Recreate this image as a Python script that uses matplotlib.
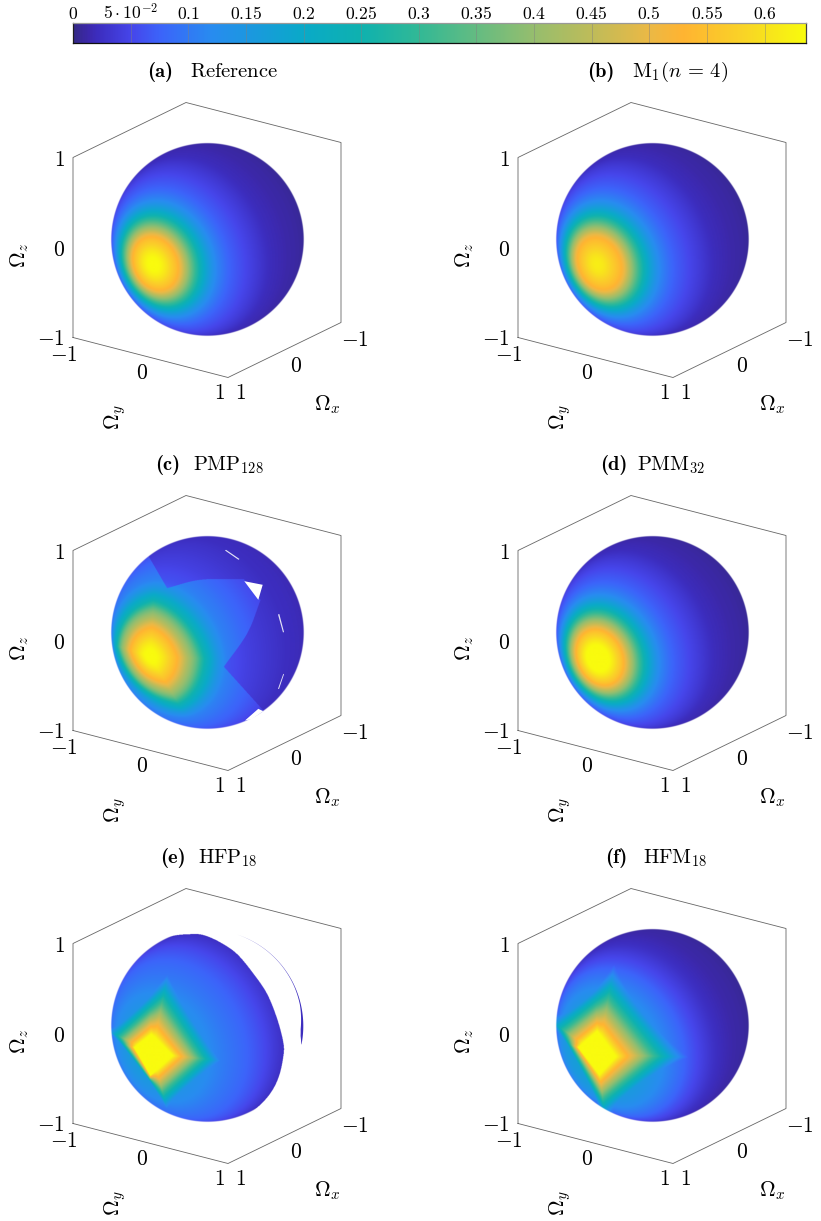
import numpy as np
import matplotlib
matplotlib.use("Agg")
import matplotlib.pyplot as plt
from matplotlib.colors import LinearSegmentedColormap, Normalize
from matplotlib.cm import ScalarMappable
from matplotlib.path import Path

plt.rcParams["mathtext.fontset"] = "cm"
plt.rcParams["font.family"] = "cmr10"
plt.rcParams["axes.unicode_minus"] = False

W, H = 821, 1221
RADIUS = 96.0
VMAX = 0.636

# Colour scale stops: value, colour
cmap_values = [0, .012, .02, .05, .075, .12, .2, .25, .3, .35, .4, .45, .5, .53, .58, .6, VMAX]
cmap_colors = ["#352a87", "#3c28aa", "#3c2dbe", "#4646eb", "#3c64fa", "#288cf0", "#0aaac8",
               "#0fb2af", "#32b996", "#64bc82", "#96be6e", "#bebc5a", "#ebb946",
               "#ffb432", "#fad228", "#f8e11e", "#f9fb0e"]
colorbar_ticks = [0, .05, .1, .15, .2, .25, .3, .35, .4, .45, .5, .55, .6]
colorbar_labels = ["$0$", r"$5\cdot10^{-2}$", "$0.1$", "$0.15$", "$0.2$", "$0.25$", "$0.3$",
                   "$0.35$", "$0.4$", "$0.45$", "$0.5$", "$0.55$", "$0.6$"]

# Screen projection of the three unit axes, in pixels per unit
axis_x = (-56.5, 27.5)
axis_y = (77.5, 20.0)
axis_z = (0.0, -90.0)
box_corners = [(1, -1, -1), (1, -1, 1), (-1, -1, 1), (-1, 1, 1), (-1, 1, -1), (1, 1, -1), (1, -1, -1)]
tick_values = [-1, 0, 1]

panel_tags = ["(a)", "(b)", "(c)", "(d)", "(e)", "(f)"]
panel_names = [r"\mathrm{Reference}", r"\mathrm{M}_1(n\,=\,4)", r"\mathrm{PMP}_{128}",
               r"\mathrm{PMM}_{32}", r"\mathrm{HFP}_{18}", r"\mathrm{HFM}_{18}"]
panel_centres = [(207, 240), (652, 240), (207, 633), (652, 633), (207, 1026), (652, 1026)]
tag_left = [147, 587, 155, 600, 160, 605]
name_left = [190, 632, 193, 637, 198, 643]
title_y = [72, 72, 465, 465, 858, 858]

# Radial profiles of the beam: angle from the peak in degrees, and value
round_angle = [0, 4.5, 9.5, 17, 22.5, 27, 32, 38.5, 47, 57.6, 73.7, 90, 120, 180]
profile_a = [.645, .635, .60, .53, .40, .30, .20, .12, .075, .05, .02, .012, .006, 0]
profile_b = [.62, .61, .58, .525, .40, .30, .20, .12, .075, .05, .02, .012, .006, 0]
profile_d = [.675, .665, .625, .545, .42, .31, .205, .12, .075, .05, .02, .012, .006, 0]

pmp_angle = [0, 5, 10, 18, 24, 29, 34, 38, 42, 47, 60, 73, 90, 180]
pmp_value = [.645, .635, .60, .53, .43, .36, .25, .20, .15, .11, .08, .06, .04, .01]

# Beam peak as a pixel offset from the sphere centre
peak_a = (-54, 25)
peak_b = (-55, 25)
peak_c = (-57, 24)
peak_d = (-55, 26)
peak_e = (-55, 27)
peak_f = (-54, 29)

# Outer level set of the PMP lobe (top, right, bottom, left)
ring_c = [(3, -53), (57, 2), (30, 50), (-32, -10)]

# Inner (saturated) and outer (near 0.2) quadrilaterals of the piecewise-linear fields
inner_e = [(-1, -18), (20, 3), (-2, 23), (-18, -5)]
outer_e = [(12, -62), (57, 7), (12, 47), (-37, -18)]
inner_f = [(-1, -23), (17, 2), (1, 20), (-20, -7)]
outer_f = [(12, -68), (68, 2), (5, 52), (-40, -28)]

# Value against the level coordinate: 0 at the peak, 1 on the inner and 2 on the outer quadrilateral
lobe_levels = [0, 1, 1.2, 1.4, 1.6, 1.75, 1.9, 2, 2.2, 2.45, 2.8, 4]
lobe_values = [.80, .64, .55, .47, .38, .31, .25, .21, .13, .06, .0, .0]

far_angle_e = [0, 30, 45, 57, 70, 80, 90, 180]
far_value_e = [.2, .135, .10, .08, .055, .035, .02, .01]
far_angle_f = [0, 30, 45, 60, 75, 90, 120, 180]
far_value_f = [.2, .155, .105, .055, .022, .012, .006, 0]

# Region of the PMP field with a lower closure value, built from its bounding arcs
pmp_arc_top = [(-40.3, -44.2), (-7, -52.5), (36.3, -53.2)]
pmp_arc_right = [(53, -32.5), (39.7, 0.8), (16.3, 34.2)]
pmp_outer = [(-58.7, -75.8)]
pmp_rim = [(55, 77), (62, 90), (110, 110), (110, -110), (-58.7, -110)]
pmp_dark_factor = 0.55
# Gaps left in the PMP surface
pmp_holes = [
    [(37.3, -51.8), (55.7, -48.2), (51.3, -33.2)],
    [(18, -82.5), (19, -83.2), (32.5, -74), (31.5, -73.2)],
    [(71, -18.5), (72.3, -19), (77, -1), (76, -.5)],
    [(76.3, 40.8), (77, 41.3), (72, 56), (71, 55.8)],
    [(38, 87.5), (51.3, 75.8), (56.3, 78.2), (45, 86)],
]

# Right-hand edge of the realizable part of the HFP surface
hfp_edge = [(-70.3, -67.7), (-57, -79.3), (-37, -88.7), (-17, -91), (-3.7, -90), (13, -82.7),
            (29.7, -71), (46.3, -51), (59.7, -31), (69.7, -6), (75.7, 17.3), (75.7, 30.7),
            (71.3, 50.7), (63, 67.3), (50, 81.5), (36, 90), (9.7, 96.5)]
hfp_far_side = [(0, 120), (-147, 120), (-147, -67.7)]
# Detached strip of the HFP surface along the rim: polar angle (degrees), thickness (pixels)
strip_angle = [-11, -6, -2, 4, 13, 25, 40, 60, 72]
strip_width = [.3, 2.2, 2.6, 2.0, 1.0, .55, .3, .15, 0]

cmap = LinearSegmentedColormap.from_list(
    "beam", [(v / VMAX, c) for v, c in zip(cmap_values, cmap_colors)], N=512)
norm = Normalize(0, VMAX)
mapper = ScalarMappable(norm=norm, cmap=cmap)


def px_axes(fig, left, top, right, bottom):
    return fig.add_axes([left / W, 1 - bottom / H, (right - left) / W, (bottom - top) / H])


def smooth_lookup(query, knots, values, width):
    """Table lookup with the corners of the piecewise-linear curve rounded off."""
    fine = np.linspace(knots[0] - 4 * width, knots[-1] + 4 * width, 3000)
    base = np.interp(np.abs(fine), knots, values)
    dx = fine[1] - fine[0]
    half = int(4 * width / dx)
    kernel = np.exp(-.5 * (np.arange(-half, half + 1) * dx / width) ** 2)
    kernel /= kernel.sum()
    soft = np.convolve(base, kernel, mode="same")
    return np.interp(query, fine[half:-half], soft[half:-half])


def rounded_curve(points, n=12):
    """Catmull-Rom curve through the given points."""
    p = np.array(points, float)
    p = np.vstack([2 * p[0] - p[1], p, 2 * p[-1] - p[-2]])
    out = []
    for i in range(1, len(p) - 2):
        t = np.linspace(0, 1, n, endpoint=False)[:, None]
        out.append(.5 * (2 * p[i] + (p[i + 1] - p[i - 1]) * t
                         + (2 * p[i - 1] - 5 * p[i] + 4 * p[i + 1] - p[i + 2]) * t ** 2
                         + (3 * p[i] - p[i - 1] - 3 * p[i + 1] + p[i + 2]) * t ** 3))
    return np.vstack(out + [p[-2][None]])


def gauge(dx, dy, ring):
    """Piecewise-linear distance whose unit level set is the given quadrilateral."""
    out = np.zeros(dx.shape)
    for i in range(4):
        a, b = np.array(ring[i], float), np.array(ring[(i + 1) % 4], float)
        det = a[0] * b[1] - a[1] * b[0]
        c1 = (dx * b[1] - dy * b[0]) / det
        c2 = (a[0] * dy - a[1] * dx) / det
        inside = (c1 >= -1e-9) & (c2 >= -1e-9)
        out[inside] = (c1 + c2)[inside]
    return out


def lobe_level(dx, dy, inner, outer):
    """Level coordinate that morphs the inner quadrilateral into the outer one."""
    g_in = gauge(dx, dy, inner)
    g_out = gauge(dx, dy, outer)
    with np.errstate(divide="ignore", invalid="ignore"):
        ratio = np.where(g_in > 0, g_out / g_in, .5)
    return np.where(g_in <= 1, g_in, 1 + (g_out - ratio) / (1 - ratio))


def angle_from(u, v, w, peak):
    pu, pv = peak[0] / RADIUS, peak[1] / RADIUS
    pw = np.sqrt(1 - pu ** 2 - pv ** 2)
    return np.degrees(np.arccos(np.clip(u * pu + v * pv + w * pw, -1, 1)))


def field(index, dx, dy):
    r = np.hypot(dx, dy)
    scale = np.maximum(r / RADIUS, 1.0)
    u, v = dx / RADIUS / scale, dy / RADIUS / scale
    w = np.sqrt(np.clip(1 - u ** 2 - v ** 2, 0, 1))
    if index == 0:
        return smooth_lookup(angle_from(u, v, w, peak_a), round_angle, profile_a, 1.5)
    if index == 1:
        return smooth_lookup(angle_from(u, v, w, peak_b), round_angle, profile_b, 1.5)
    if index == 3:
        return smooth_lookup(angle_from(u, v, w, peak_d), round_angle, profile_d, 1.5)
    if index == 2:
        th = angle_from(u, v, w, peak_c)
        g = 34 * gauge(dx - peak_c[0], dy - peak_c[1], ring_c)
        t = np.clip((th - 32) / 20, 0, 1)
        val = smooth_lookup((1 - t) * (.8 * th + .2 * g) + t * th, pmp_angle, pmp_value, 1.5)
        pts = np.column_stack([dx.ravel(), dy.ravel()])
        region = np.vstack([pmp_outer, rounded_curve(pmp_arc_top), rounded_curve(pmp_arc_right), pmp_rim])
        dark = Path(region).contains_points(pts).reshape(dx.shape)
        val[dark] *= pmp_dark_factor
        return val
    if index == 4:
        th = angle_from(u, v, w, peak_e)
        lv = lobe_level(dx - peak_e[0], dy - peak_e[1], inner_e, outer_e)
        return np.maximum(np.interp(lv, lobe_levels, lobe_values),
                          smooth_lookup(th, far_angle_e, far_value_e, 3))
    th = angle_from(u, v, w, peak_f)
    lv = lobe_level(dx - peak_f[0], dy - peak_f[1], inner_f, outer_f)
    return np.maximum(np.interp(lv, lobe_levels, lobe_values),
                      smooth_lookup(th, far_angle_f, far_value_f, 3))


def project(x, y, z):
    return (x * axis_x[0] + y * axis_y[0] + z * axis_z[0],
            x * axis_x[1] + y * axis_y[1] + z * axis_z[1])


fig = plt.figure(figsize=(W / 100, H / 100), dpi=100)

# Colour bar
cax = px_axes(fig, 73, 23, 806, 43)
gradient = np.linspace(0, VMAX, 800)[None, :]
cax.imshow(gradient, cmap=cmap, norm=norm, aspect="auto", extent=[0, VMAX, 0, 1])
for t in colorbar_ticks[1:]:
    cax.axvline(t, color="#808080", lw=.7, alpha=.45)
cax.set_yticks([])
cax.xaxis.tick_top()
cax.set_xticks(colorbar_ticks)
cax.set_xticklabels(colorbar_labels, fontsize=12.7)
cax.tick_params(axis="x", length=0, pad=.5)
for side, col in (("top", "#999999"), ("bottom", "#101010"), ("left", "#202020"), ("right", "#404040")):
    cax.spines[side].set_color(col)
    cax.spines[side].set_linewidth(.9)

step = 1 / 3
half = 150
grid = np.arange(-half, half + step / 2, step)
DX, DY = np.meshgrid(grid, grid)
pts_all = np.column_stack([DX.ravel(), DY.ravel()])
hfp_outline = np.vstack([rounded_curve(hfp_edge), hfp_far_side])

for i, (cx, cy) in enumerate(panel_centres):
    ax = px_axes(fig, cx - 207, cy - 150, cx + 207, cy + 200)
    ax.axis("off")

    bx, by = zip(*[project(*c) for c in box_corners])
    ax.plot(bx, by, color="#666666", lw=.6, solid_joinstyle="miter", zorder=1)

    rgba = mapper.to_rgba(field(i, DX, DY))
    alpha = np.clip(RADIUS + .5 - np.hypot(DX, DY), 0, 1)
    if i == 4:
        alpha = alpha * Path(hfp_outline).contains_points(pts_all).reshape(DX.shape)
    rgba[..., 3] = alpha
    ax.imshow(rgba, extent=[-half - step / 2, half + step / 2, half + step / 2, -half - step / 2],
              interpolation="hanning", zorder=2, aspect="auto")
    ax.set_xlim(-207, 207)
    ax.set_ylim(200, -150)

    if i == 2:
        for k, hole in enumerate(pmp_holes):
            hx, hy = zip(*hole)
            ax.fill(hx, hy, color="white", lw=0, zorder=3, alpha=1 if k in (0, 4) else .85)
    if i == 4:
        phi = np.radians(np.linspace(strip_angle[0], strip_angle[-1], 120))
        thick = np.interp(np.degrees(phi), strip_angle, strip_width)
        ox, oy = (RADIUS + .3) * np.cos(phi), -(RADIUS + .3) * np.sin(phi)
        ix, iy = (RADIUS + .3 - thick) * np.cos(phi), -(RADIUS + .3 - thick) * np.sin(phi)
        ax.fill(np.r_[ox, ix[::-1]], np.r_[oy, iy[::-1]], color=cmap(norm(.02)), lw=0, zorder=3)

    # Tick labels along the three visible box edges
    for t in tick_values:
        neg = 2 if t < 0 else 0
        px, py = project(1, -1, t)
        ax.text(px - 8, py + 2.5 - (1 if t < 0 else 0), f"${t}$", ha="right", va="center", fontsize=15.5)
        px, py = project(1, t, -1)
        ax.text(px - 9, py + 15.5 + neg, f"${t}$", ha="center", va="center", fontsize=15.5)
        px, py = project(t, 1, -1)
        ax.text(px + 12 + neg, py + 16 + neg, f"${t}$", ha="center", va="center", fontsize=15.5)

    ax.text(-187, 15, r"$\Omega_z$", rotation=90, ha="center", va="center", fontsize=15.5)
    ax.text(-92, 177, r"$\Omega_y$", rotation=90, ha="center", va="center", fontsize=15.5)
    ax.text(120, 165, r"$\Omega_x$", ha="center", va="center", fontsize=15.5)

    fig.text(tag_left[i] / W, 1 - title_y[i] / H, panel_tags[i], family="cmb10",
             ha="left", va="center", fontsize=14.8)
    fig.text(name_left[i] / W, 1 - title_y[i] / H, f"${panel_names[i]}$",
             ha="left", va="center", fontsize=14.8)

fig.savefig("out.png", dpi=100)
